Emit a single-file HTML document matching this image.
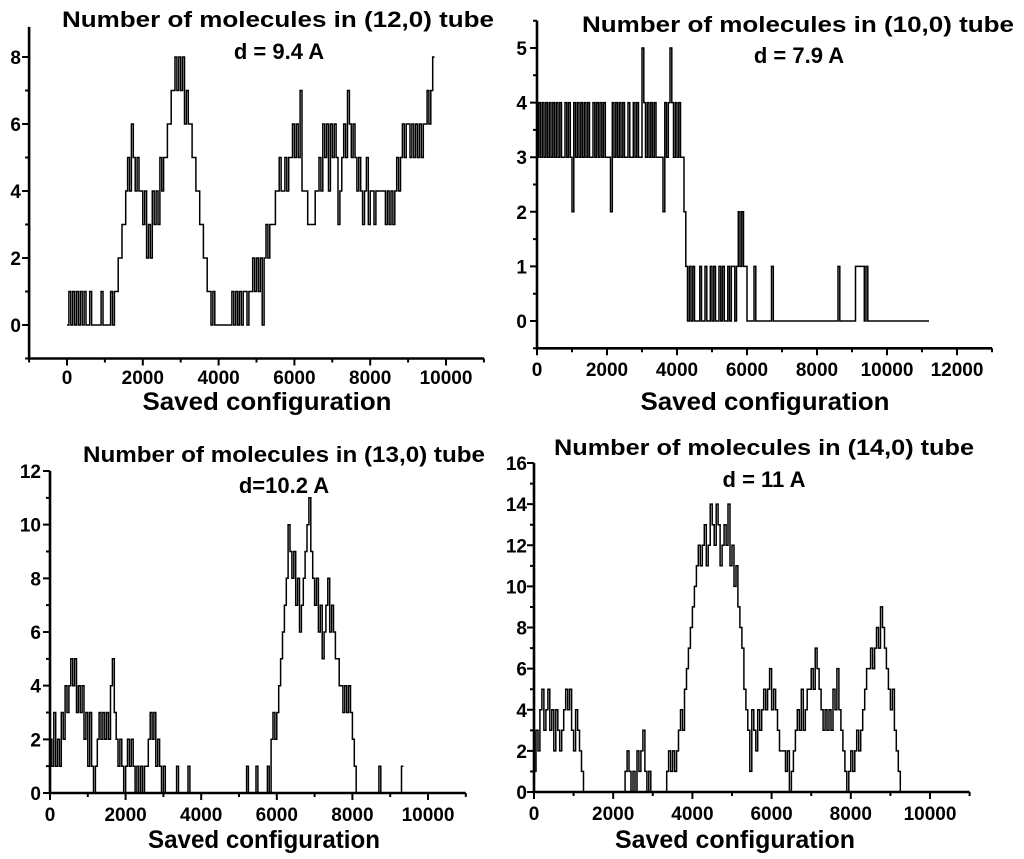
<!DOCTYPE html>
<html><head><meta charset="utf-8"><style>
html,body{margin:0;padding:0;background:#fff;}
svg{display:block;font-family:"Liberation Sans",Arial,sans-serif;font-weight:bold;}
</style></head><body>
<svg id="fig" width="1024" height="859" viewBox="0 0 1024 859"></svg>
<script>
// ---- data (step 50 saved configurations) ----
const stepSize = 50;
const tube12 = [0,1,0,1,0,1,0,1,0,1,0,0,1,0,0,0,0,0,1,0,0,0,0,1,0,1,
1,2,2,3, 3,4,5,4,6,5, 4,5,4,4, 3,4,2,3,2,4,3,4, 3,5,4,5, 5,6,6,7, 7,8,7,8, 7,8,6,7,
6,6,5,5, 4,4,3,3, 2,2,1,1, 0,1,0,0, 0,0,0,0,0,0,0,1, 0,1,0,1,0,1,1,0, 1,1,2,1, 2,1,2,0,
2,3,2,3, 3,3,4,4, 5,4,4,5, 4,5,5,6, 5,6,5,7, 4,4,4,3, 3,3,3,4, 4,5,4,6, 5,6,4,6, 5,6,5,3,
4,5,6,5, 7,6,5,6, 5,4,5,4, 3,4,5,3, 4,4,3,4, 4,4,4,4, 3,4,3,4, 3,4,5,4, 5,6,5,6, 6,5,6,5,
6,5,6,5, 6,6,7,6, 7,8];
const tube10 = [3,4,3,4,3,4,3,4,3,4,3,4,3,4,3,3,4,3,4,3,2,4,3,4,3,4,3,4,3,4,3,3,4,3,4,3,4,3,4,3,
3,3,2,4,3,4,3,4,3,4,3,3,4,3,3,4,3,4,3,3,5,4,3,4,3,4,3,4,3,3,3,3,2,4,3,4,5,4,3,4,3,4,3,3,
2,1,0,1,0,1,0,0,0,1,0,0, 1,0,0,1,0,1,0,0,1,0,1,0, 0,1,0,1,1,0,1,2,1,2,1,1, 0,0,0,0,1,0,0,0,0,0,0,0,
0,0,1,0,0,0,0,0,0,0,0,0,
0,0,0,0,0,0,0,0,0,0,0,0,0,0,0,0,0,0,0,0,0,0,0,0,0,0,0,0,1,0,0,0,0,0,0,0,0,0,1,1,1,1,1,0,1,0,
0,0,0,0,0,0,0,0,0,0,0,0,0,0,0,0,0,0,0,0,0,0,0,0,0,0,0,0,0,0,0,0,0,0];
const tube13 = [2,1,3,1,2,1,3,2,4,3, 4,5,4,5,3,4,3,4,2,3, 1,3,1,0,1,2,3,2,3,2, 3,2,4,5,3,2,1,2,1,0,
1,2,1,2,1,0,1,0,1,0, 1,1,2,3,2,3,1,2,1,0, 1,0,0,0,0,0,0,1,0,0, 0,0,0,1,0,0,0,0,0,0,
0,0,0,0,0,0,0,0,0,0,0,0,0,0,0,0,0,0,0,0, 0,0,0,0,1,0,0,0,0,1, 0,0,0,0,0,1,0,2,3,2,
3,4,5,6,7,8,10,9,8,9, 7,8,6,7,8,9,10,11,9,8, 7,8,6,7,5,6,7,8,6,7, 6,5,5,4,4,3,4,3,4,3,
2,1,0,0,0,0,0,0,0,0, 0,0,0,0,1,0,0,0,0,0,0,0,0,0,0,0,1];
const tube14 = [1,3,2,4,5,3,4,5,3,4, 2,4,3,2,3,4,5,4,5,3, 2,4,3,2,1,0,0,0,0,0,
0,0,0,0,0,0,0,0,0,0,0,0,0,0,0,0, 1,2,1,0,1,0,2,1,2,3, 1,0,1,0, 0,0,0,0,0,0,0,1,
2,1,2,1,2,3,4,3, 5,6,7,8,9,10,11,12,11,12, 13,11,12,14,13,12,14,13,11,12, 13,12,14,11,12,10,11,9,8,7,
5,4,3,1,4,3,2,4,3,4, 5,4,5,6,4,5,4,3,2,2, 2,1,2,0,1,2,3,4,3,5, 3,4,5,5,6,5,7,6,5,4,
3,4,3,4,3,5,4,6,4,3, 2,1,0,1,2,1,2,3,2,3, 4,5,6,6,7,6,7,8,7,9, 8,7,6,5,4,5,3,2,1,0,0,0];
const xTicks12 = [0,2000,4000,6000,8000,10000];
const yTicks12 = [0,2,4,6,8];
const xTicks10 = [0,2000,4000,6000,8000,10000,12000];
const yTicks10 = [0,1,2,3,4,5];
const xTicks13 = [0,2000,4000,6000,8000,10000];
const yTicks13 = [0,2,4,6,8,10,12];
const xTicks14 = [0,2000,4000,6000,8000,10000];
const yTicks14 = [0,2,4,6,8,10,12,14,16];

const NS='http://www.w3.org/2000/svg';
const svg=document.getElementById('fig');
function mk(tag,attrs,parent){const e=document.createElementNS(NS,tag);for(const k in attrs)e.setAttribute(k,attrs[k]);(parent||svg).appendChild(e);return e;}

function panel(o){
  const g=mk('g',{});
  
  
  const sx=v=>o.px0+(v-o.x0)*(o.px1-o.px0)/(o.x1-o.x0);
  const sy=v=>o.py0+(v-o.y0)*(o.py1-o.py0)/(o.y1-o.y0);
  const left=sx(o.xmin), right=sx(o.xmax), bottom=sy(o.ymin), top=sy(o.ymax);
  let d='';
  o.vals.forEach((v,i)=>{const xa=sx(i*stepSize), xb=sx((i+1)*stepSize), y=sy(v);
    d+=(i===0?'M':'L')+xa.toFixed(1)+','+y.toFixed(1)+'L'+xb.toFixed(1)+','+y.toFixed(1);});
  const line=mk('path',{d:d,fill:'none',stroke:'#000','stroke-width':1.5},g);
  
  
  const ax=mk('path',{d:`M${left},${top}L${left},${bottom}L${right},${bottom}`,fill:'none',stroke:'#000','stroke-width':2.6},g);
  
  
  let td='';
  for(let v=o.xmin;v<=o.xmax+1e-6;v+=o.xminor){const x=sx(v);td+=`M${x},${bottom}L${x},${bottom+4}`;}
  for(let v=o.ymin;v<=o.ymax+1e-6;v+=o.yminor){const y=sy(v);td+=`M${left},${y}L${left-4},${y}`;}
  o.xt.forEach(v=>{const x=sx(v);td+=`M${x},${bottom}L${x},${bottom+7}`;});
  o.yt.forEach(v=>{const y=sy(v);td+=`M${left},${y}L${left-7},${y}`;});
  mk('path',{d:td,stroke:'#000','stroke-width':2},g);
  o.xt.forEach(v=>{const t=mk('text',{x:sx(v),y:o.xlabY,'text-anchor':'middle','font-size':19},g);t.textContent=v;
    
    });
  o.yt.forEach(v=>{const t=mk('text',{x:o.ylabX,y:sy(v)+7,'text-anchor':'end','font-size':19},g);t.textContent=v;
    
    });
  const t1=mk('text',{x:o.tx,y:o.ty1,'text-anchor':'middle','font-size':22,textLength:o.tw,lengthAdjust:'spacingAndGlyphs'},g);t1.textContent=o.title;
  
  
  const t2=mk('text',{x:o.tx2,y:o.ty2,'text-anchor':'middle','font-size':22},g);t2.textContent=o.sub;
  
  
  const xl=mk('text',{x:o.xlx,y:o.xly,'text-anchor':'middle','font-size':25,textLength:o.xlw,lengthAdjust:'spacingAndGlyphs'},g);xl.textContent='Saved configuration';
  
  
}
panel({name:'panel-12-0',vals:tube12,xt:xTicks12,yt:yTicks12,x0:0,x1:10000,px0:67,px1:446,y0:0,y1:8,py0:325,py1:57,
  xmin:-1000,xmax:11000,ymin:-1,ymax:8.9,xminor:1000,yminor:1,xlabY:384,ylabX:21,
  title:'Number of molecules in (12,0) tube',tx:278,ty1:27,tw:432,sub:'d = 9.4 A',tx2:279,ty2:59,xlx:267,xly:410,xlw:249});
panel({name:'panel-10-0',vals:tube10,xt:xTicks10,yt:yTicks10,x0:0,x1:12000,px0:537,px1:957,y0:0,y1:5,py0:321,py1:48,
  xmin:0,xmax:13000,ymin:-0.5,ymax:5.5,xminor:1000,yminor:0.5,xlabY:376,ylabX:527,
  title:'Number of molecules in (10,0) tube',tx:798,ty1:32,tw:432,sub:'d = 7.9 A',tx2:799,ty2:63,xlx:765,xly:410,xlw:249});
panel({name:'panel-13-0',vals:tube13,xt:xTicks13,yt:yTicks13,x0:0,x1:10000,px0:50,px1:428,y0:0,y1:12,py0:793,py1:471,
  xmin:0,xmax:11000,ymin:0,ymax:12,xminor:1000,yminor:1,xlabY:821,ylabX:41,
  title:'Number of molecules in (13,0) tube',tx:284,ty1:462,tw:402,sub:'d=10.2 A',tx2:284,ty2:493,xlx:264,xly:848,xlw:232});
panel({name:'panel-14-0',vals:tube14,xt:xTicks14,yt:yTicks14,x0:0,x1:10000,px0:534,px1:930,y0:0,y1:16,py0:792,py1:463,
  xmin:0,xmax:11000,ymin:0,ymax:16,xminor:1000,yminor:1,xlabY:820,ylabX:527,
  title:'Number of molecules in (14,0) tube',tx:764,ty1:455,tw:420,sub:'d = 11 A',tx2:764,ty2:487,xlx:735,xly:848,xlw:240});
</script>
</body></html>
